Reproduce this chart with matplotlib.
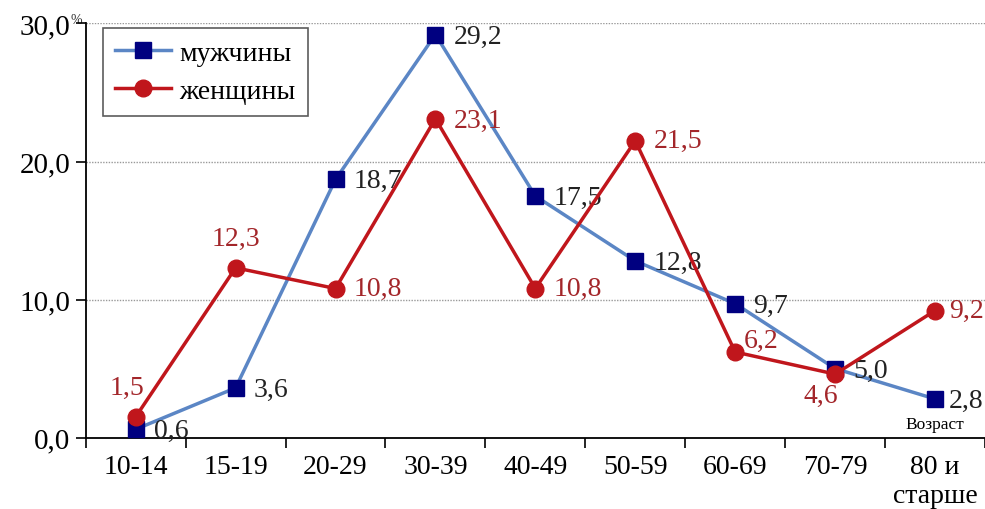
import numpy as np
import matplotlib.pyplot as plt

categories = ["10-14", "15-19", "20-29", "30-39", "40-49", "50-59", "60-69", "70-79", "80 и\nстарше"]
men = [0.6, 3.6, 18.7, 29.2, 17.5, 12.8, 9.7, 5.0, 2.8]
women = [1.5, 12.3, 10.8, 23.1, 10.8, 21.5, 6.2, 4.6, 9.2]

# label offsets in points (dx, dy, ha, va)
men_off = [(13, -1, "left", "center")] * 8 + [(10, -1, "left", "center")]
women_off = [(-6, 12, "center", "bottom"), (0, 12, "center", "bottom"),
             (13, 0, "left", "center"), (13, -1, "left", "center"),
             (13, 0, "left", "center"), (13, 0, "left", "center"),
             (6, 8, "left", "center"), (-10, -6, "center", "top"),
             (10, 0, "left", "center")]

plt.rcParams['font.family'] = ['Liberation Serif', 'DejaVu Serif']

fig = plt.figure(figsize=(9.85, 5.10), dpi=100)
ax = fig.add_axes([0.087, 0.14, 0.913, 0.812])

x = np.arange(len(categories))
ax.plot(x, men, color="#5B86C5", lw=2.5, marker="s", ms=12,
        mfc="#000080", mec="#000080", label="мужчины", zorder=3)
ax.plot(x, women, color="#C0161C", lw=2.5, marker="o", ms=12,
        mfc="#C0161C", mec="#C0161C", label="женщины", zorder=4)

for i, v in enumerate(men):
    dx, dy, ha, va = men_off[i]
    ax.annotate(f"{v:.1f}".replace(".", ","), (x[i], v), xytext=(dx, dy),
                textcoords="offset points", ha=ha, va=va, fontsize=20, color="#222222")
for i, v in enumerate(women):
    dx, dy, ha, va = women_off[i]
    ax.annotate(f"{v:.1f}".replace(".", ","), (x[i], v), xytext=(dx, dy),
                textcoords="offset points", ha=ha, va=va, fontsize=20, color="#A3262A")

ax.set_xlim(-0.5, len(categories) - 0.5)
ax.set_ylim(0, 30)
ax.set_yticks([0, 10, 20, 30])
ax.set_yticklabels(["0,0", "10,0", "20,0", "30,0"], fontsize=21)
ax.set_xticks(x)
ax.set_xticklabels(categories, fontsize=20, linespacing=1.2, va="top")
ax.set_xticks(np.arange(len(categories) + 1) - 0.5, minor=True)
ax.tick_params(axis="x", which="major", length=0, pad=12)
ax.tick_params(axis="x", which="minor", length=7, width=1.2, direction="out")
ax.tick_params(axis="y", length=7, width=1.2, direction="out", pad=4)

for yv in [10, 20, 30]:
    ax.axhline(yv, color="#999999", lw=1, ls=(0, (1, 1)), zorder=1)

for s in ["top", "right"]:
    ax.spines[s].set_visible(False)
ax.spines["left"].set_linewidth(1.3)
ax.spines["bottom"].set_linewidth(1.3)

ax.text(-0.017, 1.01, "%", transform=ax.transAxes, fontsize=10, ha="left", va="center",
        color="#333333", zorder=0)
ax.text(8.0, 0.4, "Возраст", fontsize=12.5, ha="center", va="bottom")

leg = ax.legend(loc="upper left", bbox_to_anchor=(0.019, 0.99), fontsize=20,
                frameon=True, fancybox=False, edgecolor="#333333",
                handlelength=2.0, handletextpad=0.3, borderpad=0.45,
                labelspacing=0.45, borderaxespad=0)
leg.get_frame().set_linewidth(1.2)

fig.savefig("out.png", dpi=100)
